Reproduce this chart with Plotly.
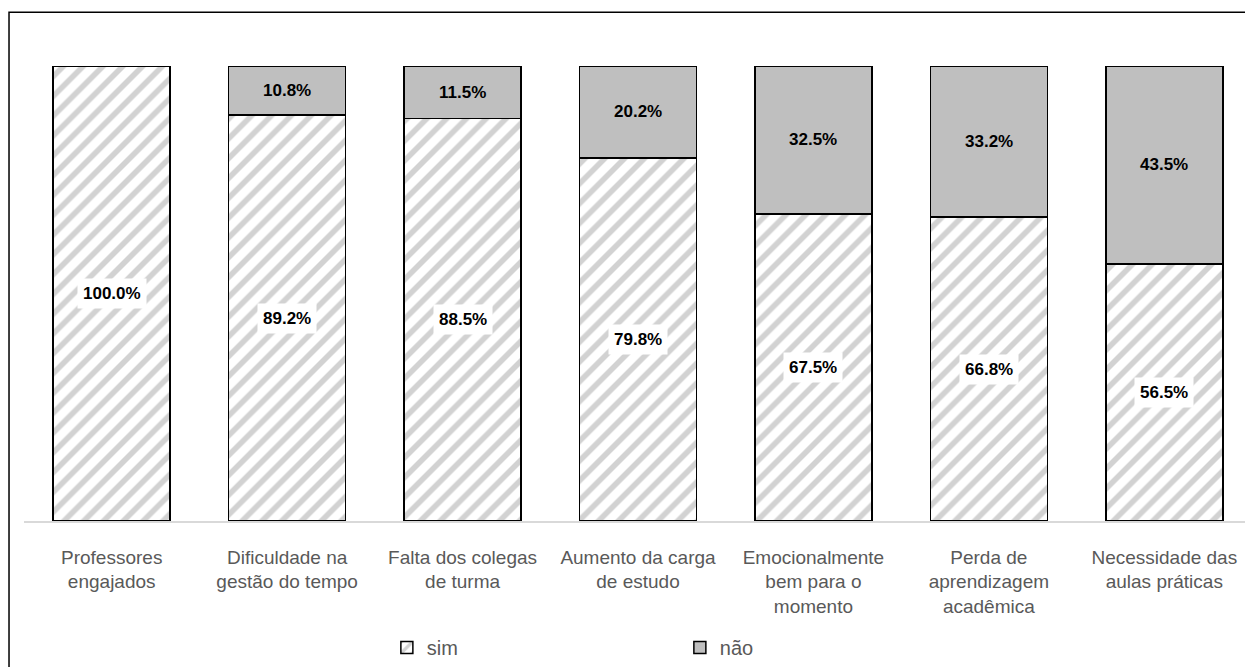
import plotly.graph_objects as go

categories = [
    "Professores<br>engajados",
    "Dificuldade na<br>gestão do tempo",
    "Falta dos colegas<br>de turma",
    "Aumento da carga<br>de estudo",
    "Emocionalmente<br>bem para o<br>momento",
    "Perda de<br>aprendizagem<br>acadêmica",
    "Necessidade das<br>aulas práticas",
]
sim = [100.0, 89.2, 88.5, 79.8, 67.5, 66.8, 56.5]
nao = [0.0, 10.8, 11.5, 20.2, 32.5, 33.2, 43.5]

LBL_FONT = dict(family="Liberation Sans, Arial", size=17, color="black")

fig = go.Figure()
fig.add_trace(go.Bar(
    x=categories, y=sim, name="sim",
    marker=dict(color="white", line=dict(color="black", width=1.5),
                pattern=dict(shape="/", fgcolor="#a6a6a6", bgcolor="white",
                             size=14, solidity=0.4)),
))
fig.add_trace(go.Bar(
    x=categories, y=nao, name="não",
    marker=dict(color="#bfbfbf", line=dict(color="black", width=1.5)),
))

annotations = []
for c, s, n in zip(categories, sim, nao):
    annotations.append(dict(x=c, y=s / 2, text=f"<b>{s:.1f}%</b>", showarrow=False,
                            bgcolor="white", borderpad=5, font=LBL_FONT))
    if n > 0:
        annotations.append(dict(x=c, y=s + n / 2, text=f"<b>{n:.1f}%</b>", showarrow=False,
                                font=LBL_FONT))

fig.update_layout(
    width=1245, height=659,
    barmode="stack", bargap=0.333,
    paper_bgcolor="white", plot_bgcolor="white",
    margin=dict(l=16, r=1, t=58, b=145),
    font=dict(family="Liberation Sans, Arial", size=19, color="#595959"),
    annotations=annotations,
    legend=dict(orientation="h", x=0.2955, xanchor="left", y=-0.275, yanchor="middle",
                traceorder="normal",
                entrywidth=248, entrywidthmode="pixels",
                font=dict(size=20, color="#595959"), itemwidth=30),
    shapes=[dict(type="rect", xref="paper", yref="paper",
                 x0=-0.0122, x1=1.05, y0=-0.5, y1=1.118,
                 line=dict(color="black", width=1.5), layer="below")],
    showlegend=True,
)
fig.update_xaxes(showline=True, linecolor="#d9d9d9", linewidth=1.5, ticks="",
                 ticklabelstandoff=18,
                 tickfont=dict(size=19, color="#595959"), fixedrange=True)
fig.update_yaxes(range=[0, 100], visible=False, showgrid=False, zeroline=False)

fig.write_html("out.html")
